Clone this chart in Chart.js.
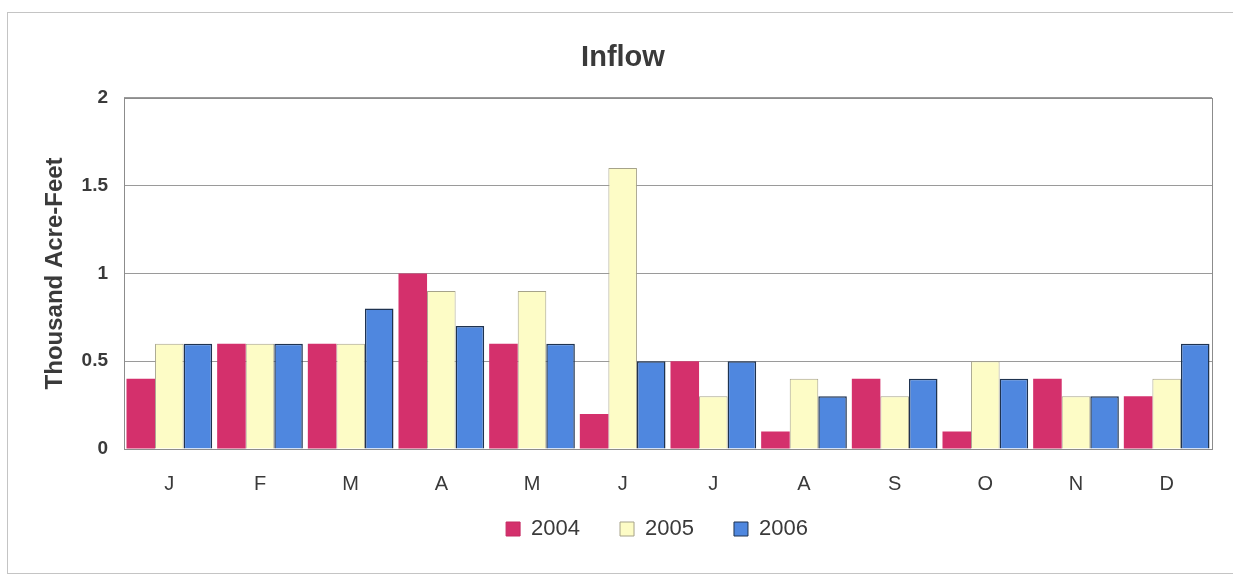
<!DOCTYPE html>
<html>
<head>
<meta charset="utf-8">
<script src="https://cdn.jsdelivr.net/npm/chart.js@4.4.1/dist/chart.umd.min.js"></script>
<style>
  html, body { margin: 0; padding: 0; background: #ffffff; }
  #wrap { position: relative; width: 1233px; height: 575px; overflow: hidden; }
  #frame { position: absolute; left: 7px; top: 12px; width: 1240px; height: 562px; border: 1.5px solid #c4c4c4; box-sizing: border-box; }
  canvas { position: absolute; left: 0; top: 0; }
</style>
</head>
<body>
<div id="wrap">
  <div id="frame"></div>
  <canvas id="c" width="1233" height="575"></canvas>
</div>
<script>
const categories = ["J", "F", "M", "A", "M", "J", "J", "A", "S", "O", "N", "D"];
const series2004 = [0.4, 0.6, 0.6, 1.0, 0.6, 0.2, 0.5, 0.1, 0.4, 0.1, 0.4, 0.3];
const series2005 = [0.6, 0.6, 0.6, 0.9, 0.9, 1.6, 0.3, 0.4, 0.3, 0.5, 0.3, 0.4];
const series2006 = [0.6, 0.6, 0.8, 0.7, 0.6, 0.5, 0.5, 0.3, 0.4, 0.4, 0.3, 0.6];
const yTicks = [0, 0.5, 1, 1.5, 2];

const FONT = "'Liberation Sans', Arial, sans-serif";
const TXT = "#3a3a3a";

const plotFrame = {
  id: 'plotFrame',
  afterLayout(chart) {
    if (chart.legend) {
      chart.legend.left += 51; chart.legend.right += 51;
      chart.legend.top -= 18; chart.legend.bottom -= 18;
    }
    if (chart.titleBlock) { chart.titleBlock.left += 17; chart.titleBlock.right += 17; }
  },
  afterDraw(chart) {
    const a = chart.chartArea, ctx = chart.ctx;
    ctx.save();
    ctx.strokeStyle = '#8c8c8c';
    ctx.lineWidth = 1;
    ctx.strokeRect(Math.round(a.left) + 0.5, Math.round(a.top) + 0.5, Math.round(a.right - a.left), Math.round(a.bottom - a.top));
    ctx.restore();
  }
};

new Chart(document.getElementById('c'), {
  type: 'bar',
  data: {
    labels: categories,
    datasets: [
      { label: '2004', data: series2004, backgroundColor: '#d4306c', borderColor: '#c42a62', borderWidth: 0 },
      { label: '2005', data: series2005, backgroundColor: '#fdfcc6', borderColor: '#a6a38a', borderWidth: 1 },
      { label: '2006', data: series2006, backgroundColor: '#4f87df', borderColor: '#1f3350', borderWidth: 1.5 }
    ]
  },
  plugins: [plotFrame],
  options: {
    responsive: false,
    animation: false,
    devicePixelRatio: 1,
    layout: { padding: { left: 0, right: 21, top: 0, bottom: 7 } },
    datasets: { bar: { categoryPercentage: 0.945, barPercentage: 1.0 } },
    plugins: {
      title: {
        display: true,
        text: 'Inflow',
        color: TXT,
        font: { family: FONT, size: 29, weight: 'bold', lineHeight: 1.2 },
        padding: { top: 41, bottom: 22 }
      },
      legend: {
        position: 'bottom',
        labels: {
          color: TXT,
          font: { family: FONT, size: 22 },
          boxWidth: 14,
          boxHeight: 14,
          padding: 40,
          generateLabels(chart) {
            const items = Chart.defaults.plugins.legend.labels.generateLabels(chart);
            items.forEach(it => { it.lineWidth = 1; if (it.datasetIndex === 0) it.strokeStyle = '#c42a62'; });
            return items;
          }
        }
      },
      tooltip: { enabled: false }
    },
    scales: {
      x: {
        grid: { display: false, drawTicks: false },
        border: { display: false },
        ticks: { color: TXT, font: { family: FONT, size: 20 }, padding: 23, maxRotation: 0 },
        afterFit(s) { s.height = 47; }
      },
      y: {
        min: 0, max: 2,
        afterBuildTicks(s) { s.ticks = yTicks.map(v => ({ value: v })); },
        grid: { color: '#9a9a9a', lineWidth: 1, drawTicks: false },
        border: { display: false },
        ticks: { color: TXT, font: { family: FONT, size: 19, weight: 'bold' }, padding: 16, callback: v => String(v) },
        title: {
          display: true,
          text: 'Thousand Acre-Feet',
          color: TXT,
          font: { family: FONT, size: 24, weight: 'bold', lineHeight: 1.2 },
          padding: { top: 41, bottom: 0 }
        },
        afterFit(s) { s.width = 124; }
      }
    }
  }
});
</script>
</body>
</html>
